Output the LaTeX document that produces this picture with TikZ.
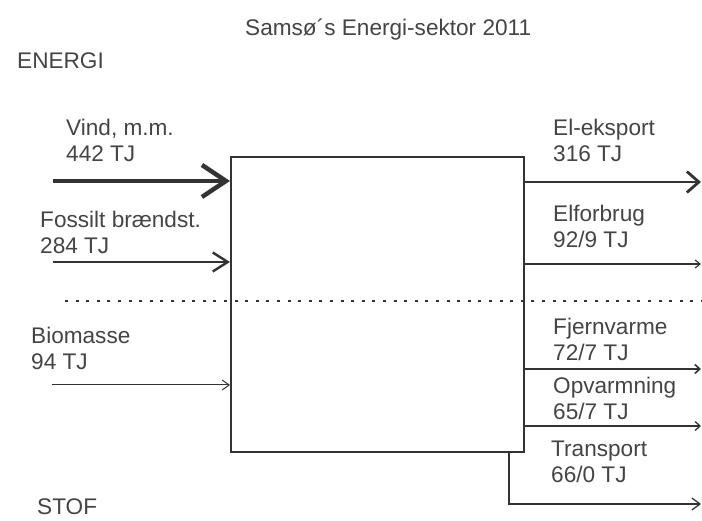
\documentclass[tikz,border=0pt]{standalone}
\usepackage{fontspec}
\setmainfont{Liberation Sans}
\usetikzlibrary{positioning, arrows.meta}
\definecolor{ink}{HTML}{333333}
\definecolor{txt}{HTML}{444444}
\tikzstyle{Label} = [
text=txt,
align=left,
inner sep=0pt,
anchor=north west,
font=\fontsize{22.6}{26}\selectfont]
\tikzstyle{Flow} = [draw=ink, line cap=butt]

\begin{document}
\begin{tikzpicture}[x=1pt, y=-1pt]
    \useasboundingbox (0,0) rectangle (702,521);
    \node (title) [Label] at (245,19) {Samsø´s Energi-sektor 2011};
    \node (energi) [Label] at (17,53) {ENERGI};
    \node (stof) [Label] at (37,499) {STOF};
    \node (sektor) [draw=ink, line width=2pt, minimum width=293pt,
        minimum height=295pt, inner sep=0pt] at (377.5,304.5) {};
    % inputs
    \node (1) [Label] at (66,119) {Vind, m.m.\\442 TJ};
    \node (2) [Label] at (40,211) {Fossilt brændst.\\284 TJ};
    \node (3) [Label] at (31,327) {Biomasse\\94 TJ};
    \coordinate (vind) at (53,181);
    \coordinate (fossil) at (53,262);
    \coordinate (bio) at (52,385);
    \draw[Flow, line width=4.5pt, -{Straight Barb[length=24pt, width=32pt]}]
        (vind) -- (vind -| sektor.west);
    \draw[Flow, line width=2.4pt, -{Straight Barb[length=15pt, width=19pt]}]
        (fossil) -- (fossil -| sektor.west);
    \draw[Flow, line width=1pt, -{Straight Barb[length=7pt, width=10pt]}]
        (bio) -- (bio -| sektor.west);
    % dotted divider
    \coordinate (d1) at (65,301);
    \coordinate (d2) at (702,301);
    \draw[Flow, line width=2pt, dash pattern=on 3pt off 7.6pt] (d1) -- (d2);
    % outputs
    \node (4) [Label] at (553,119) {El-eksport\\316 TJ};
    \node (5) [Label] at (553,205) {Elforbrug\\92/9 TJ};
    \node (6) [Label] at (553,318) {Fjernvarme\\72/7 TJ};
    \node (7) [Label] at (553,377) {Opvarmning\\65/7 TJ};
    \node (8) [Label] at (551,441) {Transport\\66/0 TJ};
    \coordinate (eks) at (701,182);
    \coordinate (elf) at (701,264);
    \coordinate (fjv) at (701,369);
    \coordinate (opv) at (701,426);
    \coordinate (trp) at (701,504);
    \coordinate (knaek) at (509,504);
    \draw[Flow, line width=2.8pt, -{Straight Barb[length=12pt, width=21pt]}]
        (sektor.east |- eks) -- (eks);
    \draw[Flow, line width=1.2pt, -{Straight Barb[length=5pt, width=8pt]}]
        (sektor.east |- elf) -- (elf);
    \draw[Flow, line width=1.6pt, -{Straight Barb[length=5pt, width=9pt]}]
        (sektor.east |- fjv) -- (fjv);
    \draw[Flow, line width=1.3pt, -{Straight Barb[length=5pt, width=9pt]}]
        (sektor.east |- opv) -- (opv);
    \draw[Flow, line width=1.3pt, -{Straight Barb[length=8pt, width=12pt]}]
        (knaek |- sektor.south) -- (knaek) -- (trp);
\end{tikzpicture}
\end{document}
